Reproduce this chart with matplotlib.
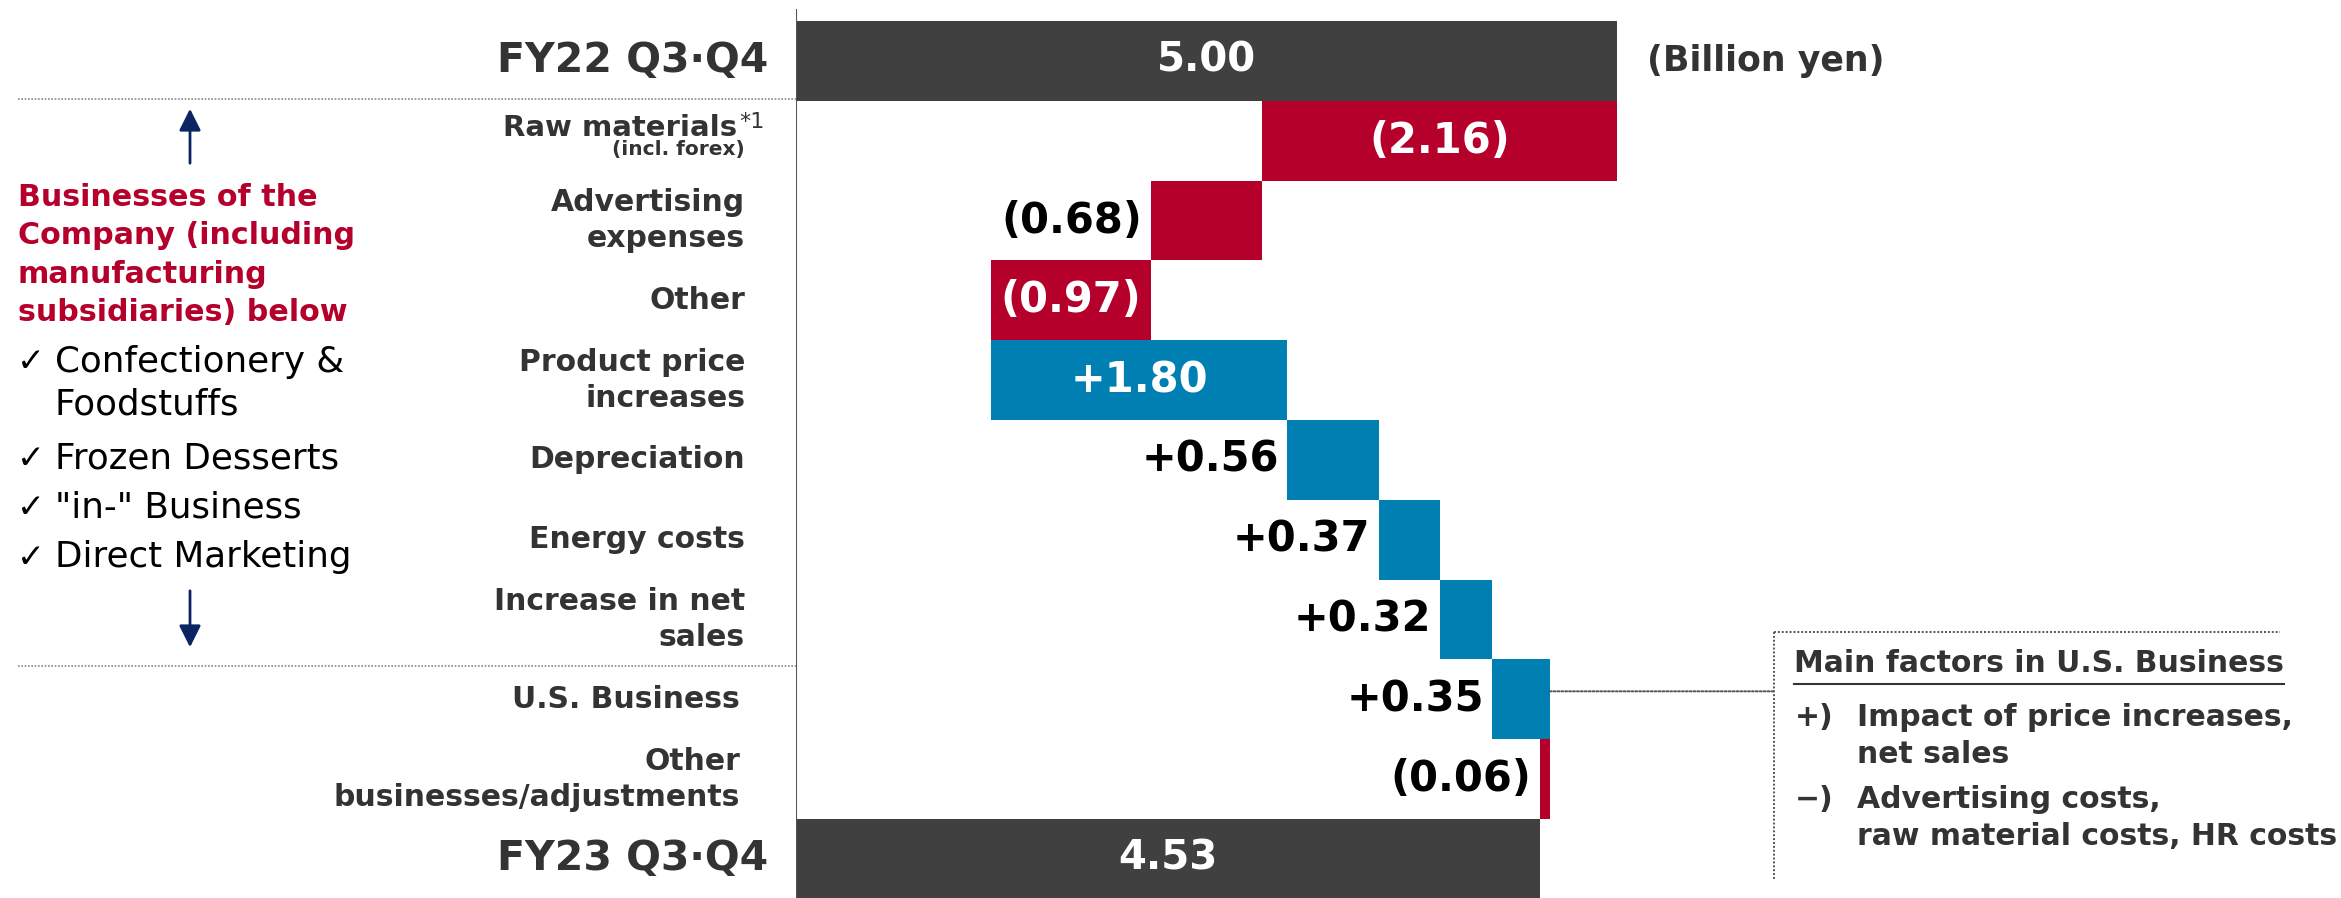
import matplotlib
matplotlib.use("Agg")
import matplotlib.pyplot as plt
import matplotlib.transforms as mtransforms
from matplotlib.patches import FancyArrowPatch, ConnectionPatch
from matplotlib.lines import Line2D

# Operating profit bridge, billion yen
start_label = "FY22 Q3·Q4"
end_label = "FY23 Q3·Q4"
start_value = 5.00
end_value = 4.53
factor_labels = ["Raw materials", "Advertising\nexpenses", "Other", "Product price\nincreases",
                 "Depreciation", "Energy costs", "Increase in net\nsales", "U.S. Business",
                 "Other\nbusinesses/adjustments"]
factor_values = [-2.16, -0.68, -0.97, 1.80, 0.56, 0.37, 0.32, 0.35, -0.06]

segments = ["Confectionery &\nFoodstuffs", "Frozen Desserts", "\"in-\" Business", "Direct Marketing"]
us_plus = "Impact of price increases,\nnet sales"
us_minus = "Advertising costs,\nraw material costs, HR costs"

GRAY = "#404040"
RED = "#b4002b"
BLUE = "#0080b2"
TEXT = "#333333"
NAVY = "#0c2461"

W, H = 2341, 898
fig = plt.figure(figsize=(W / 100, H / 100), dpi=100)
plt.rcParams['font.family'] = ['DejaVu Sans', 'Noto Sans CJK JP']


def fx(x):
    return x / W


def fy(y):
    return 1 - y / H


# bar area: value 0 sits on the axis line, one row per item
x0, unit = 796, 164.2
top, row_h = 21, 79.8
ax = fig.add_axes([fx(x0), 0, 1 - fx(x0), 1])
ax.set_xlim(0, (W - x0) / unit)
ax.set_ylim((H - top) / row_h - 0.5, -top / row_h - 0.5)
ax.axis('off')
ax.axvline(0, ymin=0, ymax=1 - 10 / H, color="#555555", lw=1.5)

lab = mtransforms.blended_transform_factory(fig.transFigure, ax.transData)

# totals
n = len(factor_values) + 1
for row, val in ((0, start_value), (n, end_value)):
    ax.barh(row, val, left=0, height=1.0, color=GRAY, lw=0)
    ax.text(val / 2, row, f"{val:.2f}", color="white", fontsize=29, fontweight="bold",
            ha="center", va="center")

# waterfall steps
level = start_value
for i, v in enumerate(factor_values, start=1):
    left = min(level, level + v)
    color = RED if v < 0 else BLUE
    ax.barh(i, abs(v), left=left, height=1.0, color=color, lw=0)
    txt = f"({abs(v):.2f})" if v < 0 else f"+{v:.2f}"
    if abs(v) >= 0.9:
        ax.text(left + abs(v) / 2, i, txt, color="white", fontsize=30, fontweight="bold",
                ha="center", va="center")
    else:
        ax.text(left - 0.05, i, txt, color="black", fontsize=30, fontweight="bold",
                ha="right", va="center")
    level += v

# row labels
ax.text(fx(768), 0, start_label, transform=lab, ha="right", va="center", fontsize=29.5,
        fontweight="bold", color=TEXT)
ax.text(fx(768), n, end_label, transform=lab, ha="right", va="center", fontsize=29.5,
        fontweight="bold", color=TEXT)
for i, name in enumerate(factor_labels, start=1):
    xr = 745 if i < 8 else 740
    if i == 1:
        ax.text(fx(737), i - 0.163, name, transform=lab, ha="right", va="center", fontsize=21,
                fontweight="bold", color=TEXT)
        ax.text(fx(739), i - 0.24, "*1", transform=lab, ha="left", va="center", fontsize=16,
                color=TEXT)
        ax.text(fx(745), i + 0.113, "(incl. forex)", transform=lab, ha="right", va="center",
                fontsize=14.5, fontweight="bold", color=TEXT)
    else:
        ax.text(fx(xr), i, name, transform=lab, ha="right", va="center", fontsize=21.5,
                fontweight="bold", color=TEXT, linespacing=1.3)

ax.text(fx(1647), 0, "(Billion yen)", transform=lab, ha="left", va="center", fontsize=25,
        fontweight="bold", color=TEXT)

# dotted separators on the left side
for y in (99, 666):
    fig.add_artist(Line2D([fx(18), fx(x0)], [fy(y), fy(y)], color="#888888", lw=1.2,
                          ls=(0, (1, 1))))

# segment note
fig.text(fx(18), fy(255), "Businesses of the\nCompany (including\nmanufacturing\nsubsidiaries) below",
         ha="left", va="center", fontsize=21.7, fontweight="bold", color=RED, linespacing=1.41)
seg_y = [383, 458, 508, 557]
for s, y in zip(segments, seg_y):
    two = "\n" in s
    fig.text(fx(17), fy(362 if two else y), "✓", ha="left", va="center", fontsize=24,
             color="black")
    fig.text(fx(55), fy(y), s, ha="left", va="center", fontsize=25.7, color="black",
             linespacing=1.31)

arrow_style = "-|>,head_length=0.6,head_width=0.3"
fig.add_artist(FancyArrowPatch((fx(190), fy(166)), (fx(190), fy(106)), transform=fig.transFigure,
                               arrowstyle=arrow_style, mutation_scale=22, lw=2, color=NAVY))
fig.add_artist(FancyArrowPatch((fx(190), fy(588)), (fx(190), fy(650)), transform=fig.transFigure,
                               arrowstyle=arrow_style, mutation_scale=22, lw=2, color=NAVY))

# U.S. business callout box (top and left edges only)
bx, by, bb = 1774, 632, 879
fig.add_artist(Line2D([fx(bx), fx(2280)], [fy(by), fy(by)], color="#555555", lw=1.4,
                      ls=(0, (1, 1))))
fig.add_artist(Line2D([fx(bx), fx(bx)], [fy(by), fy(bb)], color="#555555", lw=1.4,
                      ls=(0, (1, 1))))
us_row = factor_labels.index("U.S. Business") + 1
us_right = start_value + sum(factor_values[:us_row])
con = ConnectionPatch(xyA=(us_right, us_row - 0.1), coordsA=ax.transData,
                      xyB=(fx(bx), us_row - 0.1), coordsB=lab,
                      color="#555555", lw=1.4, ls=(0, (1, 1)))
fig.add_artist(con)

title = fig.text(fx(1794), fy(664), "Main factors in U.S. Business", ha="left", va="center",
                 fontsize=21.5, fontweight="bold", color=TEXT)
fig.canvas.draw()
tb = title.get_window_extent()
fig.add_artist(Line2D([fx(1794), fx(tb.x1)], [fy(684), fy(684)], color=TEXT, lw=1.5))

fig.text(fx(1795), fy(718), "+)", ha="left", va="center", fontsize=21.5, fontweight="bold",
         color=TEXT)
fig.text(fx(1857), fy(736), us_plus, ha="left", va="center", fontsize=21.5, fontweight="bold",
         color=TEXT, linespacing=1.31)
fig.text(fx(1795), fy(800), "−)", ha="left", va="center", fontsize=21.5, fontweight="bold",
         color=TEXT)
fig.text(fx(1857), fy(818), us_minus, ha="left", va="center", fontsize=21.5, fontweight="bold",
         color=TEXT, linespacing=1.31)

fig.savefig("out.png", dpi=100, facecolor="white")
